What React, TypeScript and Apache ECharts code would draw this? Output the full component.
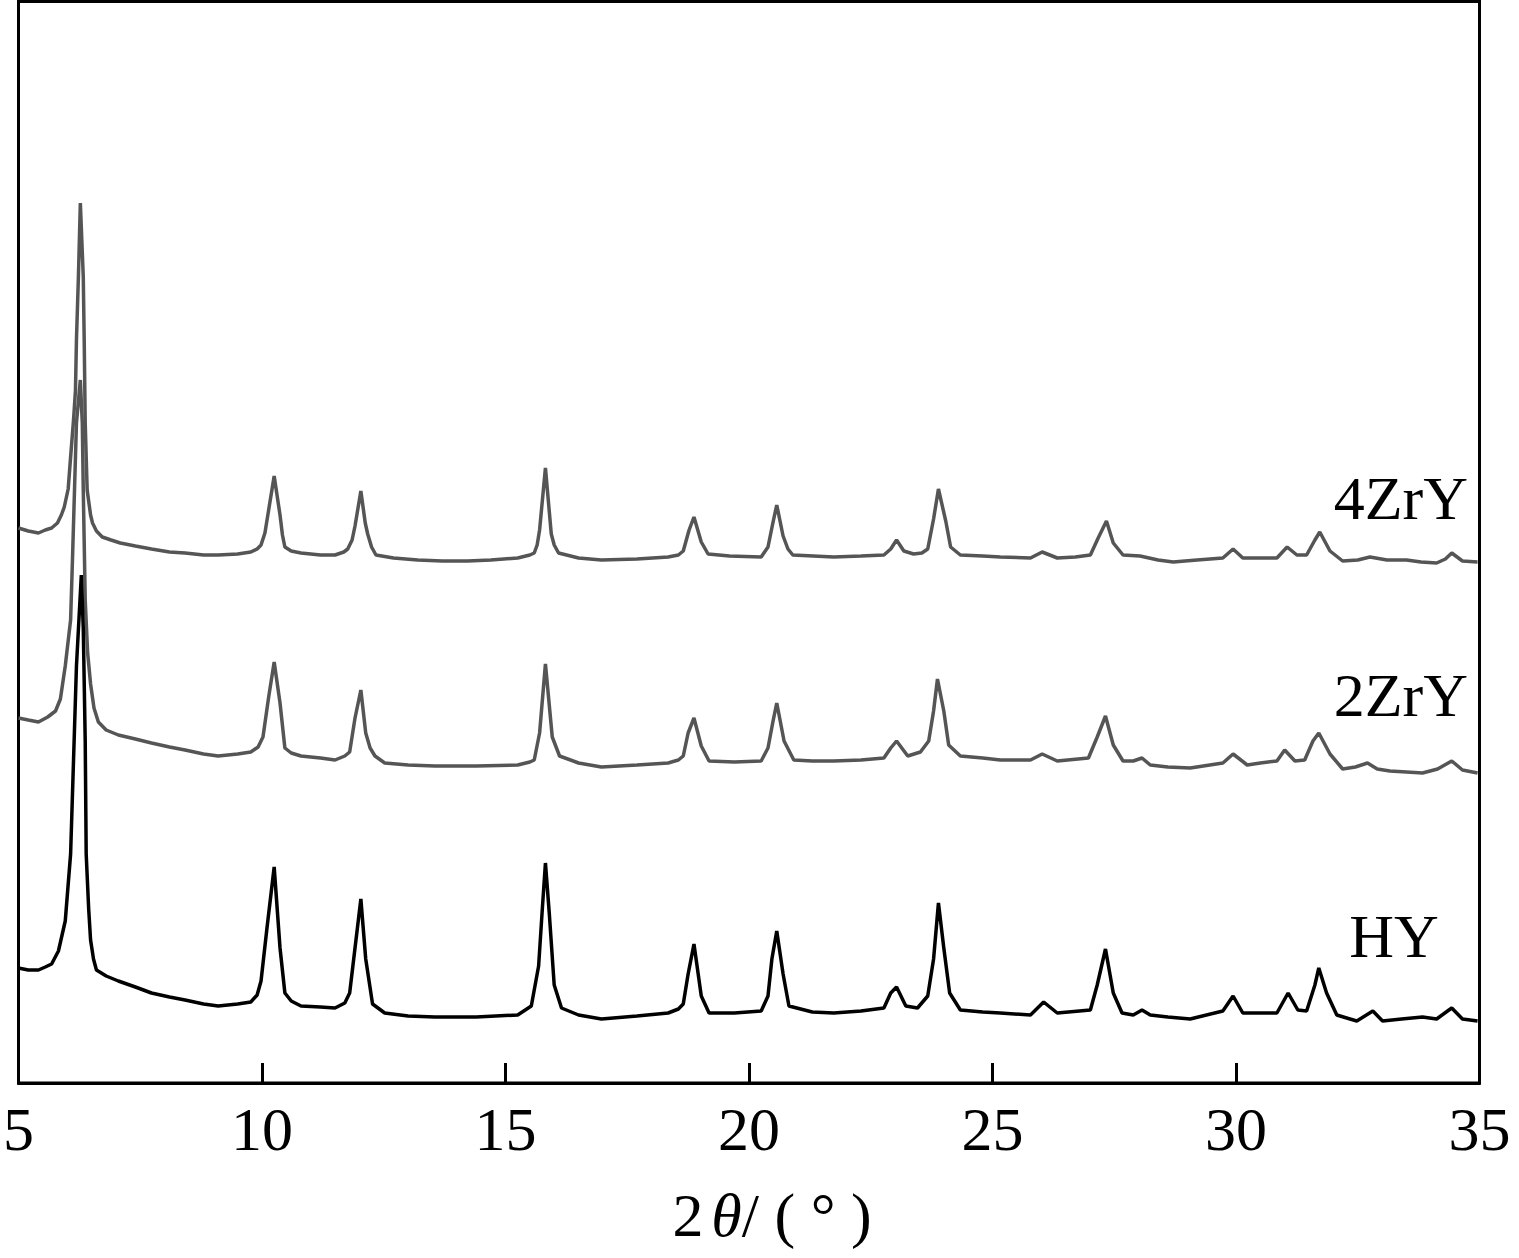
import React, { useEffect, useRef } from "react";
import * as echarts from "echarts";

// 2θ (degrees) and intensity (a.u., stacked offsets as plotted)
const series4ZrY: [number, number][] = [
  [5.0, 555], [5.2, 552], [5.41, 550], [5.55, 553], [5.68, 555], [5.8, 560], [5.88, 568], [5.94, 576], [6.02, 594], [6.07, 626], [6.13, 663],
  [6.17, 693], [6.19, 743], [6.23, 806], [6.27, 880], [6.33, 806], [6.35, 740], [6.37, 660], [6.41, 593],
  [6.48, 568], [6.52, 560], [6.6, 552], [6.72, 546], [6.9, 543], [7.09, 540], [7.4, 537], [7.73, 534], [8.1, 531], [8.42, 530], [8.8, 528], [9.1, 528], [9.5, 529], [9.77, 531], [9.9, 534], [9.98, 538],
  [10.06, 550], [10.12, 568], [10.25, 607], [10.37, 568], [10.42, 548], [10.47, 536], [10.6, 532], [10.8, 530], [11.2, 528], [11.5, 528], [11.68, 531], [11.76, 534], [11.85, 543], [11.91, 557],
  [12.03, 592], [12.12, 560], [12.17, 549], [12.25, 536], [12.34, 528], [12.7, 525], [13.2, 523], [13.7, 522], [14.22, 522], [14.7, 523], [15.25, 525], [15.5, 528], [15.59, 530], [15.65, 538], [15.7, 553],
  [15.82, 615], [15.94, 549], [16.0, 538], [16.09, 530], [16.5, 525], [16.97, 523], [17.7, 524], [18.34, 526], [18.55, 528], [18.65, 532], [18.77, 553], [18.87, 566],
  [19.02, 541], [19.16, 529], [19.6, 527], [20.25, 526], [20.39, 536], [20.49, 560], [20.57, 578], [20.7, 547], [20.8, 534], [20.9, 528],
  [21.74, 526], [22.3, 527], [22.77, 528], [22.91, 534], [23.03, 543], [23.18, 532], [23.38, 529], [23.55, 530], [23.67, 534], [23.79, 564],
  [23.89, 594], [24.04, 562], [24.14, 536], [24.34, 528], [24.8, 527], [25.16, 526], [25.78, 525], [26.02, 531], [26.33, 525],
  [26.7, 526], [27.01, 528], [27.17, 545], [27.34, 562], [27.48, 540], [27.68, 528], [28.03, 527], [28.4, 523], [28.71, 521], [29.2, 523], [29.73, 525],
  [29.94, 534], [30.14, 525], [30.5, 525], [30.84, 525], [31.05, 536], [31.25, 528], [31.45, 528], [31.62, 543], [31.72, 551],
  [31.93, 532], [32.19, 522], [32.5, 523], [32.75, 526], [33.1, 523], [33.5, 523], [33.8, 521], [34.12, 520], [34.3, 524], [34.43, 530], [34.65, 522], [34.96, 521],
];

const series2ZrY: [number, number][] = [
  [5.0, 365], [5.2, 363], [5.41, 361], [5.6, 366], [5.76, 372], [5.86, 384], [5.96, 417], [6.07, 463], [6.11, 526], [6.15, 593],
  [6.19, 660], [6.27, 703], [6.31, 660], [6.33, 593], [6.37, 483], [6.42, 430], [6.48, 399], [6.55, 375], [6.64, 361], [6.8, 353], [7.05, 348],
  [7.4, 344], [7.73, 340], [8.1, 336], [8.42, 333], [8.8, 329], [9.1, 327], [9.5, 329], [9.77, 331], [9.92, 336], [10.02, 346], [10.14, 387], [10.25, 421], [10.37, 380],
  [10.47, 335], [10.6, 330], [10.8, 327], [11.2, 325], [11.5, 323], [11.7, 327], [11.8, 331], [11.91, 365], [12.03, 393], [12.13, 350], [12.22, 335], [12.32, 327],
  [12.52, 320], [13.0, 318], [13.55, 317], [14.4, 317], [15.25, 318], [15.5, 321], [15.59, 323], [15.7, 350], [15.82, 419], [15.96, 346], [16.11, 327],
  [16.5, 320], [16.97, 316], [17.7, 318], [18.34, 320], [18.55, 323], [18.65, 327], [18.75, 350], [18.87, 365], [19.02, 337], [19.18, 322], [19.7, 321], [20.25, 322],
  [20.39, 335], [20.49, 361], [20.57, 380], [20.72, 342], [20.92, 323], [21.3, 322], [21.74, 322], [22.3, 323], [22.77, 325], [22.91, 335],
  [23.03, 342], [23.26, 327], [23.52, 331], [23.69, 342], [23.79, 372], [23.87, 404], [24.0, 372], [24.1, 338],
  [24.34, 327], [24.8, 325], [25.16, 323], [25.78, 323], [26.02, 329], [26.33, 322], [26.97, 325], [27.15, 346], [27.32, 367],
  [27.48, 338], [27.68, 322], [27.89, 322], [28.07, 325], [28.24, 318], [28.6, 316], [29.06, 315], [29.73, 320], [29.94, 329],
  [30.23, 318], [30.5, 320], [30.84, 322], [31.0, 333], [31.21, 322], [31.41, 323], [31.58, 342], [31.7, 350], [31.93, 329],
  [32.19, 314], [32.45, 316], [32.7, 320], [32.9, 314], [33.16, 312], [33.5, 311], [33.83, 310], [34.14, 314], [34.43, 322], [34.65, 313], [34.96, 310],
];

const seriesHY: [number, number][] = [
  [5.0, 115], [5.2, 113], [5.41, 113], [5.55, 116], [5.68, 119], [5.82, 132], [5.96, 162], [6.07, 229], [6.13, 323], [6.19, 417],
  [6.29, 508], [6.33, 455], [6.37, 342], [6.39, 229], [6.44, 175], [6.48, 143], [6.54, 124], [6.6, 113], [6.8, 107], [7.05, 102], [7.4, 96], [7.73, 90],
  [8.1, 86], [8.42, 83], [8.8, 79], [9.1, 77], [9.5, 79], [9.77, 81], [9.9, 88], [9.98, 102], [10.1, 154], [10.25, 216], [10.37, 135], [10.47, 90],
  [10.6, 82], [10.8, 77], [11.2, 76], [11.5, 75], [11.7, 80], [11.8, 90], [11.91, 135], [12.03, 184], [12.13, 124], [12.27, 79], [12.52, 70],
  [13.0, 67], [13.55, 66], [14.4, 66], [15.25, 68], [15.53, 77], [15.68, 117], [15.76, 177], [15.82, 220], [15.9, 169], [16.0, 98],
  [16.15, 75], [16.5, 68], [16.97, 64], [17.7, 67], [18.34, 70], [18.55, 74], [18.65, 79], [18.75, 109], [18.87, 139], [19.02, 87], [19.18, 70],
  [19.7, 70], [20.25, 72], [20.39, 87], [20.47, 124], [20.57, 152], [20.7, 109], [20.82, 77], [21.3, 71], [21.74, 70], [22.3, 72], [22.77, 75],
  [22.91, 90], [23.03, 96], [23.22, 77], [23.46, 75], [23.67, 87], [23.79, 124], [23.89, 180], [24.0, 135],
  [24.12, 90], [24.34, 73], [24.8, 71], [25.16, 70], [25.78, 68], [26.05, 81], [26.33, 70], [27.01, 73], [27.15, 98],
  [27.32, 134], [27.48, 90], [27.66, 70], [27.89, 68], [28.07, 73], [28.24, 68], [28.6, 66], [29.06, 64], [29.73, 72],
  [29.94, 87], [30.14, 70], [30.5, 70], [30.84, 70], [31.07, 90], [31.27, 73], [31.45, 72], [31.62, 98], [31.7, 115],
  [31.86, 90], [32.07, 68], [32.48, 62], [32.81, 72], [33.01, 62], [33.4, 64], [33.83, 66], [34.12, 64], [34.43, 75],
  [34.65, 64], [34.96, 62],
];

const sampleNames = ["4ZrY", "2ZrY", "HY"];
const xTicks = { min: 5, max: 35, interval: 5 };

const FONT = "'Liberation Serif', 'Times New Roman', serif";

export default function App() {
  const ref = useRef<HTMLDivElement>(null);
  useEffect(() => {
    if (!ref.current) return;
    const chart = echarts.init(ref.current, undefined, { renderer: "svg" });
    chart.setOption({
      animation: false,
      backgroundColor: "#fff",
      grid: {
        left: 16.5,
        right: 39.5,
        top: 1.5,
        bottom: 175,
        show: true,
        borderColor: "#000",
        borderWidth: 3,
        containLabel: false,
      },
      xAxis: {
        type: "value",
        min: xTicks.min,
        max: xTicks.max,
        interval: xTicks.interval,
        axisLine: { show: true, onZero: false, lineStyle: { color: "#000", width: 3 } },
        axisTick: { show: true, inside: true, length: 20, lineStyle: { color: "#000", width: 3 } },
        axisLabel: { fontSize: 62, fontFamily: FONT, color: "#000", margin: 15 },
        splitLine: { show: false },
        name: "{a|2}{b|θ}{a|/ ( ° )}",
        nameLocation: "middle",
        nameGap: 101,
        nameTextStyle: {
          padding: [0, 0, 0, 46],
          rich: {
            a: { fontSize: 62, fontFamily: FONT, color: "#000" },
            b: { fontSize: 62, fontFamily: FONT, fontStyle: "italic", color: "#000", padding: [0, 0, 0, 8] },
          },
        },
      },
      yAxis: {
        type: "value",
        min: 0,
        max: 1081.5,
        axisLine: { show: false },
        axisTick: { show: false },
        axisLabel: { show: false },
        splitLine: { show: false },
      },
      series: [
        {
          name: sampleNames[0],
          type: "line",
          data: series4ZrY,
          showSymbol: false,
          lineStyle: { color: "#555555", width: 3.5 },
        },
        {
          name: sampleNames[1],
          type: "line",
          data: series2ZrY,
          showSymbol: false,
          lineStyle: { color: "#555555", width: 3.5 },
        },
        {
          name: sampleNames[2],
          type: "line",
          data: seriesHY,
          showSymbol: false,
          lineStyle: { color: "#000000", width: 3.5 },
        },
      ],
      graphic: [
        { type: "text", x: 1468, y: 498, style: { text: sampleNames[0], font: `62px ${FONT}`, fill: "#000", textAlign: "right", textVerticalAlign: "middle" } },
        { type: "text", x: 1468, y: 695, style: { text: sampleNames[1], font: `62px ${FONT}`, fill: "#000", textAlign: "right", textVerticalAlign: "middle" } },
        { type: "text", x: 1394, y: 936, style: { text: sampleNames[2], font: `62px ${FONT}`, fill: "#000", textAlign: "center", textVerticalAlign: "middle" } },
      ],
    });
    return () => chart.dispose();
  }, []);
  return <div ref={ref} style={{ position: "absolute", left: 0, top: 0, width: 1519, height: 1258 }} />;
}
